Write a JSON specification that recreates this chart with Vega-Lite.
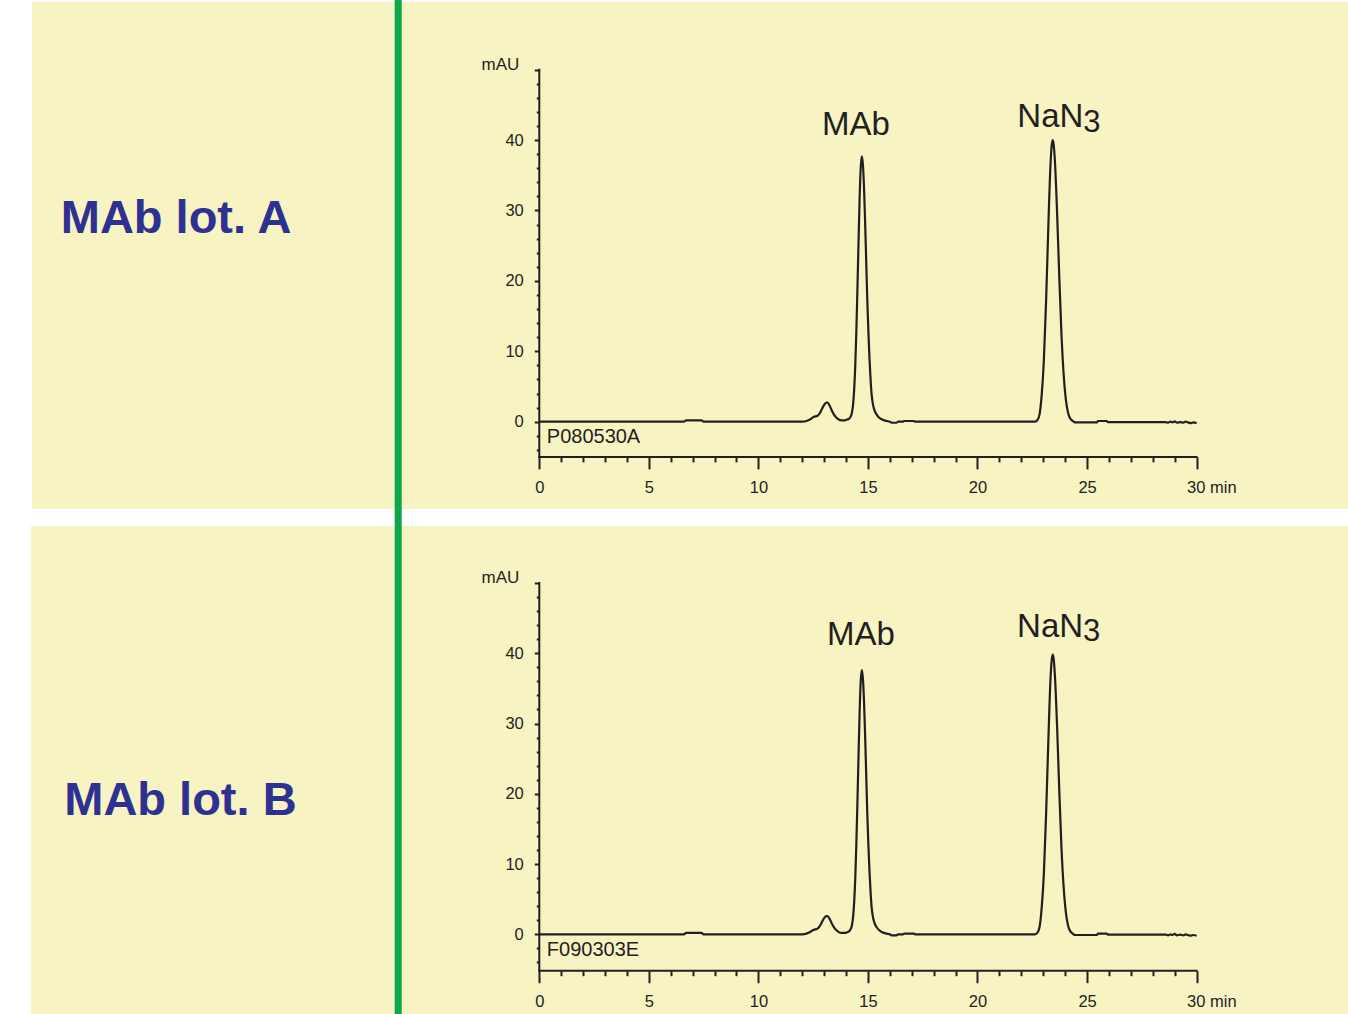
{
  "$schema": "https://vega.github.io/schema/vega-lite/v6.json",
  "background": "#ffffff",
  "padding": 0,
  "spacing": 0,
  "bounds": "flush",
  "config": {
    "view": {"stroke": null},
    "font": "Liberation Sans",
    "axis": {"grid": false, "domain": false, "labelFont": "Liberation Sans", "labelFontSize": 16.5, "labelColor": "#231F20", "tickColor": "#231F20", "tickWidth": 2, "labelOverlap": false, "labelFlush": false, "labelBound": false}
  },
  "datasets": {
    "lotA": [
      {"t":0,"mAU":0},{"t":6.6,"mAU":0},{"t":6.7,"mAU":0.2},{"t":7.4,"mAU":0.2},{"t":7.5,"mAU":0},
      {"t":12.0,"mAU":0},{"t":12.2,"mAU":0.1},{"t":12.4,"mAU":0.4},{"t":12.5,"mAU":0.65},{"t":12.6,"mAU":0.75},{"t":12.7,"mAU":0.85},{"t":12.8,"mAU":1.2},{"t":12.9,"mAU":1.8},{"t":13.0,"mAU":2.4},{"t":13.1,"mAU":2.7},{"t":13.15,"mAU":2.7},{"t":13.25,"mAU":2.3},{"t":13.35,"mAU":1.6},{"t":13.45,"mAU":1.0},{"t":13.55,"mAU":0.6},{"t":13.65,"mAU":0.35},{"t":13.8,"mAU":0.2},{"t":13.95,"mAU":0.2},{"t":14.05,"mAU":0.3},{"t":14.15,"mAU":0.45},{"t":14.22,"mAU":0.8},{"t":14.27,"mAU":1.3},{"t":14.32,"mAU":2.4},{"t":14.37,"mAU":4.5},{"t":14.42,"mAU":7.9},{"t":14.47,"mAU":12.8},{"t":14.52,"mAU":18.9},{"t":14.57,"mAU":25.5},{"t":14.62,"mAU":31.7},{"t":14.67,"mAU":36.1},{"t":14.72,"mAU":37.7},{"t":14.77,"mAU":36.5},{"t":14.82,"mAU":33.3},{"t":14.87,"mAU":28.5},{"t":14.92,"mAU":22.9},{"t":14.97,"mAU":17.3},{"t":15.02,"mAU":12.8},{"t":15.07,"mAU":9.0},{"t":15.12,"mAU":6.0},{"t":15.17,"mAU":3.8},{"t":15.22,"mAU":2.6},{"t":15.3,"mAU":1.6},{"t":15.4,"mAU":1.0},{"t":15.5,"mAU":0.6},{"t":15.65,"mAU":0.3},{"t":15.85,"mAU":0.1},{"t":16.0,"mAU":0},{"t":16.08,"mAU":-0.15},{"t":16.3,"mAU":-0.15},{"t":16.38,"mAU":0},{"t":16.6,"mAU":0},{"t":16.65,"mAU":0.1},{"t":17.1,"mAU":0.1},{"t":17.15,"mAU":0},
      {"t":22.63,"mAU":0},{"t":22.73,"mAU":0.2},{"t":22.83,"mAU":1.0},{"t":22.93,"mAU":3.8},{"t":23.03,"mAU":8.8},{"t":23.13,"mAU":17.1},{"t":23.23,"mAU":27.4},{"t":23.33,"mAU":36.4},{"t":23.38,"mAU":39.0},{"t":23.43,"mAU":40.0},{"t":23.48,"mAU":39.3},{"t":23.53,"mAU":37.2},{"t":23.63,"mAU":29.9},{"t":23.73,"mAU":20.8},{"t":23.83,"mAU":12.6},{"t":23.93,"mAU":6.8},{"t":24.03,"mAU":3.2},{"t":24.13,"mAU":1.3},{"t":24.23,"mAU":0.45},{"t":24.35,"mAU":0.1},{"t":24.45,"mAU":-0.1},{"t":25.45,"mAU":-0.1},{"t":25.5,"mAU":0.1},{"t":25.9,"mAU":0.1},{"t":25.95,"mAU":-0.05},{"t":28.6,"mAU":-0.05},{"t":28.7,"mAU":-0.15},{"t":28.8,"mAU":0},{"t":28.9,"mAU":-0.1},{"t":29.0,"mAU":0.05},{"t":29.1,"mAU":-0.15},{"t":29.25,"mAU":-0.05},{"t":29.4,"mAU":-0.15},{"t":29.5,"mAU":0},{"t":29.6,"mAU":-0.1},{"t":29.75,"mAU":-0.2},{"t":29.85,"mAU":-0.1},{"t":30.0,"mAU":-0.2}
    ],
    "lotB": [
      {"t":0,"mAU":0},{"t":6.6,"mAU":0},{"t":6.7,"mAU":0.2},{"t":7.4,"mAU":0.2},{"t":7.5,"mAU":0},
      {"t":12.0,"mAU":0},{"t":12.2,"mAU":0.1},{"t":12.4,"mAU":0.4},{"t":12.5,"mAU":0.6},{"t":12.6,"mAU":0.7},{"t":12.7,"mAU":0.8},{"t":12.8,"mAU":1.15},{"t":12.9,"mAU":1.75},{"t":13.0,"mAU":2.3},{"t":13.1,"mAU":2.6},{"t":13.15,"mAU":2.6},{"t":13.25,"mAU":2.2},{"t":13.35,"mAU":1.55},{"t":13.45,"mAU":1.0},{"t":13.55,"mAU":0.6},{"t":13.65,"mAU":0.35},{"t":13.8,"mAU":0.2},{"t":13.95,"mAU":0.2},{"t":14.05,"mAU":0.3},{"t":14.15,"mAU":0.45},{"t":14.22,"mAU":0.8},{"t":14.27,"mAU":1.3},{"t":14.32,"mAU":2.4},{"t":14.37,"mAU":4.5},{"t":14.42,"mAU":7.9},{"t":14.47,"mAU":12.8},{"t":14.52,"mAU":18.8},{"t":14.57,"mAU":25.4},{"t":14.62,"mAU":31.6},{"t":14.67,"mAU":36.0},{"t":14.72,"mAU":37.6},{"t":14.77,"mAU":36.4},{"t":14.82,"mAU":33.2},{"t":14.87,"mAU":28.4},{"t":14.92,"mAU":22.8},{"t":14.97,"mAU":17.2},{"t":15.02,"mAU":12.7},{"t":15.07,"mAU":9.0},{"t":15.12,"mAU":6.0},{"t":15.17,"mAU":3.8},{"t":15.22,"mAU":2.6},{"t":15.3,"mAU":1.6},{"t":15.4,"mAU":1.0},{"t":15.5,"mAU":0.6},{"t":15.65,"mAU":0.3},{"t":15.85,"mAU":0.1},{"t":16.0,"mAU":0},{"t":16.08,"mAU":-0.15},{"t":16.3,"mAU":-0.15},{"t":16.38,"mAU":0},{"t":16.6,"mAU":0},{"t":16.65,"mAU":0.1},{"t":17.1,"mAU":0.1},{"t":17.15,"mAU":0},
      {"t":22.63,"mAU":0},{"t":22.73,"mAU":0.2},{"t":22.83,"mAU":1.0},{"t":22.93,"mAU":3.8},{"t":23.03,"mAU":8.7},{"t":23.13,"mAU":17.0},{"t":23.23,"mAU":27.2},{"t":23.33,"mAU":36.2},{"t":23.38,"mAU":38.8},{"t":23.43,"mAU":39.8},{"t":23.48,"mAU":39.1},{"t":23.53,"mAU":37.0},{"t":23.63,"mAU":29.8},{"t":23.73,"mAU":20.7},{"t":23.83,"mAU":12.5},{"t":23.93,"mAU":6.8},{"t":24.03,"mAU":3.2},{"t":24.13,"mAU":1.3},{"t":24.23,"mAU":0.45},{"t":24.35,"mAU":0.1},{"t":24.45,"mAU":-0.1},{"t":25.45,"mAU":-0.1},{"t":25.5,"mAU":0.1},{"t":25.9,"mAU":0.1},{"t":25.95,"mAU":-0.05},{"t":28.6,"mAU":-0.05},{"t":28.7,"mAU":-0.15},{"t":28.8,"mAU":0},{"t":28.9,"mAU":-0.1},{"t":29.0,"mAU":0.05},{"t":29.1,"mAU":-0.15},{"t":29.25,"mAU":-0.05},{"t":29.4,"mAU":-0.15},{"t":29.5,"mAU":0},{"t":29.6,"mAU":-0.1},{"t":29.75,"mAU":-0.2},{"t":29.85,"mAU":-0.1},{"t":30.0,"mAU":-0.2}
    ]
  },
  "vconcat": [
    {
      "width": 1348,
      "height": 517,
      "layer": [
        {"data": {"values": [{}]}, "mark": {"type": "rect", "color": "#F7F3C3"}, "encoding": {"x": {"datum": -23.15}, "x2": {"datum": 36.91}, "y": {"datum": 59.62}, "y2": {"datum": -12.4}}},
        {"data": {"values": [{}]}, "mark": {"type": "rect", "color": "#0CA64B"}, "encoding": {"x": {"datum": -6.6}, "x2": {"datum": -6.28}, "y": {"datum": -13.537}, "y2": {"datum": 59.9}}},
        {"data": {"values": [{}]}, "mark": {"type": "rule", "color": "#231F20", "strokeWidth": 2, "strokeCap": "square"}, "encoding": {"x": {"datum": 0}, "x2": {"datum": 30}, "y": {"datum": -5}}},
        {"data": {"values": [{}]}, "mark": {"type": "rule", "color": "#231F20", "strokeWidth": 2, "strokeCap": "square"}, "encoding": {"x": {"datum": 0}, "y": {"datum": -5}, "y2": {"datum": 50}}},
        {
          "data": {"name": "lotA"},
          "mark": {"type": "line", "color": "#231F20", "strokeWidth": 2.2, "interpolate": "monotone"},
          "encoding": {
            "x": {"field": "t", "type": "quantitative", "scale": {"domain": [-24.614, 36.91], "nice": false, "zero": false},
              "axis": {"title": null, "orient": "bottom", "offset": -60.1, "zindex": 2, "tickCount": 100, "format": "d", "labelOverlap": false, "values": [0,1,2,3,4,5,6,7,8,9,10,11,12,13,14,15,16,17,18,19,20,21,22,23,24,25,26,27,28,29,30],
                "tickSize": {"condition": {"test": "datum.value % 5 === 0", "value": 12}, "value": 5},
                "labelExpr": "datum.value % 5 === 0 ? (datum.value === 30 ? '30 min' : datum.label) : ''",
                "labelAlign": {"condition": {"test": "datum.value === 30", "value": "left"}, "value": "center"},
                "labelOffset": {"condition": {"test": "datum.value === 30", "value": -10}, "value": 0},
                "labelPadding": 11}},
            "y": {"field": "mAU", "type": "quantitative", "scale": {"domain": [-13.537, 59.9], "nice": false, "zero": false},
              "axis": {"title": null, "orient": "left", "offset": -539.3, "zindex": 2, "tickCount": 100, "format": "d", "labelOverlap": false, "values": [-4,-2,0,2,4,6,8,10,12,14,16,18,20,22,24,26,28,30,32,34,36,38,40,42,44,46,48,50],
                "tickSize": {"condition": {"test": "datum.value % 10 === 0", "value": 5}, "value": 3},
                "labelExpr": "datum.value % 10 === 0 && datum.value >= 0 && datum.value <= 40 ? datum.label : ''",
                "labelPadding": 11}}
          }
        },
        {"data": {"values": [{}]}, "mark": {"type": "text", "text": "mAU", "align": "right", "baseline": "alphabetic", "dx": -20, "fontSize": 17, "color": "#231F20"}, "encoding": {"x": {"datum": 0}, "y": {"datum": 50}}},
        {"data": {"values": [{}]}, "mark": {"type": "text", "text": "P080530A", "align": "left", "baseline": "alphabetic", "dx": 7.5, "dy": 21, "fontSize": 20, "color": "#231F20"}, "encoding": {"x": {"datum": 0}, "y": {"datum": 0}}},
        {"data": {"values": [{}]}, "mark": {"type": "text", "text": "MAb", "align": "center", "baseline": "alphabetic", "fontSize": 33, "color": "#231F20"}, "encoding": {"x": {"datum": 14.45}, "y": {"datum": 40.7}}},
        {"data": {"values": [{}]}, "mark": {"type": "text", "text": "NaN", "align": "right", "baseline": "alphabetic", "fontSize": 33, "color": "#231F20"}, "encoding": {"x": {"datum": 24.83}, "y": {"datum": 41.8}}},
        {"data": {"values": [{}]}, "mark": {"type": "text", "text": "3", "align": "left", "baseline": "alphabetic", "dy": 4.5, "fontSize": 31, "color": "#231F20"}, "encoding": {"x": {"datum": 24.83}, "y": {"datum": 41.8}}},
        {"data": {"values": [{}]}, "mark": {"type": "text", "text": "MAb lot. A", "align": "center", "baseline": "alphabetic", "fontSize": 47, "fontWeight": "bold", "color": "#2E3192"}, "encoding": {"x": {"datum": -16.58}, "y": {"datum": 26.76}}}
      ]
    },
    {
      "width": 1348,
      "height": 497,
      "layer": [
        {"data": {"values": [{}]}, "mark": {"type": "rect", "color": "#F7F3C3"}, "encoding": {"x": {"datum": -23.2}, "x2": {"datum": 36.91}, "y": {"datum": 58.12}, "y2": {"datum": -11.345}}},
        {"data": {"values": [{}]}, "mark": {"type": "rect", "color": "#0CA64B"}, "encoding": {"x": {"datum": -6.6}, "x2": {"datum": -6.28}, "y": {"datum": -11.345}, "y2": {"datum": 59.4}}},
        {"data": {"values": [{}]}, "mark": {"type": "rule", "color": "#231F20", "strokeWidth": 2, "strokeCap": "square"}, "encoding": {"x": {"datum": 0}, "x2": {"datum": 30}, "y": {"datum": -5.18}}},
        {"data": {"values": [{}]}, "mark": {"type": "rule", "color": "#231F20", "strokeWidth": 2, "strokeCap": "square"}, "encoding": {"x": {"datum": 0}, "y": {"datum": -5.18}, "y2": {"datum": 50}}},
        {
          "data": {"name": "lotB"},
          "mark": {"type": "line", "color": "#231F20", "strokeWidth": 2.2, "interpolate": "monotone"},
          "encoding": {
            "x": {"field": "t", "type": "quantitative", "scale": {"domain": [-24.614, 36.91], "nice": false, "zero": false},
              "axis": {"title": null, "orient": "bottom", "offset": -43.3, "zindex": 2, "tickCount": 100, "format": "d", "labelOverlap": false, "values": [0,1,2,3,4,5,6,7,8,9,10,11,12,13,14,15,16,17,18,19,20,21,22,23,24,25,26,27,28,29,30],
                "tickSize": {"condition": {"test": "datum.value % 5 === 0", "value": 12}, "value": 5},
                "labelExpr": "datum.value % 5 === 0 ? (datum.value === 30 ? '30 min' : datum.label) : ''",
                "labelAlign": {"condition": {"test": "datum.value === 30", "value": "left"}, "value": "center"},
                "labelOffset": {"condition": {"test": "datum.value === 30", "value": -10}, "value": 0},
                "labelPadding": 11}},
            "y": {"field": "mAU", "type": "quantitative", "scale": {"domain": [-11.345, 59.4], "nice": false, "zero": false},
              "axis": {"title": null, "orient": "left", "offset": -539.3, "zindex": 2, "tickCount": 100, "format": "d", "labelOverlap": false, "values": [-4,-2,0,2,4,6,8,10,12,14,16,18,20,22,24,26,28,30,32,34,36,38,40,42,44,46,48,50],
                "tickSize": {"condition": {"test": "datum.value % 10 === 0", "value": 5}, "value": 3},
                "labelExpr": "datum.value % 10 === 0 && datum.value >= 0 && datum.value <= 40 ? datum.label : ''",
                "labelPadding": 11}}
          }
        },
        {"data": {"values": [{}]}, "mark": {"type": "text", "text": "mAU", "align": "right", "baseline": "alphabetic", "dx": -20, "fontSize": 17, "color": "#231F20"}, "encoding": {"x": {"datum": 0}, "y": {"datum": 50}}},
        {"data": {"values": [{}]}, "mark": {"type": "text", "text": "F090303E", "align": "left", "baseline": "alphabetic", "dx": 7.5, "dy": 21.7, "fontSize": 20, "color": "#231F20"}, "encoding": {"x": {"datum": 0}, "y": {"datum": 0}}},
        {"data": {"values": [{}]}, "mark": {"type": "text", "text": "MAb", "align": "center", "baseline": "alphabetic", "fontSize": 33, "color": "#231F20"}, "encoding": {"x": {"datum": 14.68}, "y": {"datum": 41.18}}},
        {"data": {"values": [{}]}, "mark": {"type": "text", "text": "NaN", "align": "right", "baseline": "alphabetic", "fontSize": 33, "color": "#231F20"}, "encoding": {"x": {"datum": 24.82}, "y": {"datum": 42.32}}},
        {"data": {"values": [{}]}, "mark": {"type": "text", "text": "3", "align": "left", "baseline": "alphabetic", "dy": 4.5, "fontSize": 31, "color": "#231F20"}, "encoding": {"x": {"datum": 24.82}, "y": {"datum": 42.32}}},
        {"data": {"values": [{}]}, "mark": {"type": "text", "text": "MAb lot. B", "align": "center", "baseline": "alphabetic", "fontSize": 47, "fontWeight": "bold", "color": "#2E3192"}, "encoding": {"x": {"datum": -16.38}, "y": {"datum": 16.98}}}
      ]
    }
  ]
}
